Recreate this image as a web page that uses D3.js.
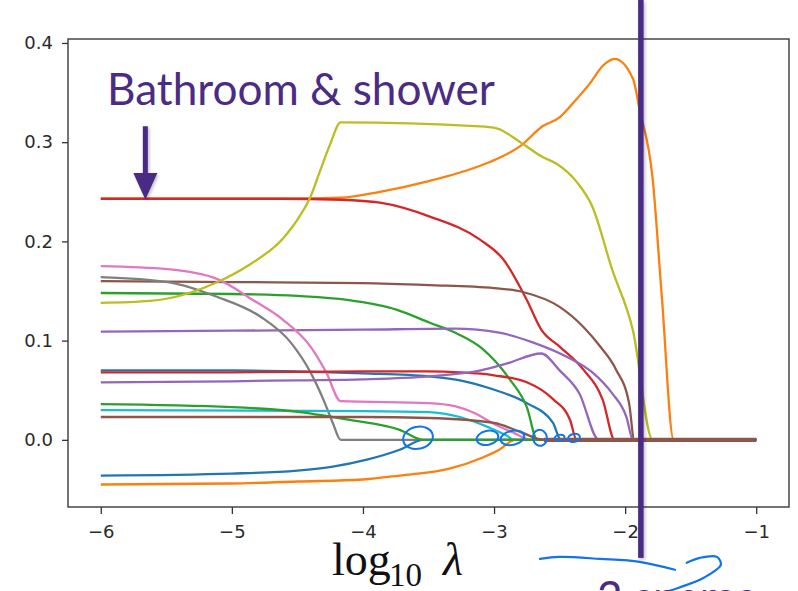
<!DOCTYPE html>
<html>
<head>
<meta charset="utf-8">
<script src="https://cdn.jsdelivr.net/npm/d3@7"></script>
<style>
  body { margin: 0; background: #fff; }
  svg { display: block; }
  .tick text { font-family: "DejaVu Sans", sans-serif; font-size: 18px; fill: #2a2a2a; }
</style>
</head>
<body>
<div id="container"></div>
<script>
/* CONSTANTS AND GLOBALS */
const width = 798,
  height = 591,
  margin = { top: 39, bottom: 84, left: 68, right: 9 };

const purple = "#4a2c84";
const ink = "#1273ea";

// tick values
const xTicks = [-6, -5, -4, -3, -2, -1];
const yTicks = [0.0, 0.1, 0.2, 0.3, 0.4];

// lasso paths, [log10 lambda, coefficient], in plotting order
const blue1 = [[-6, 0.070], [-5, 0.070], [-4.5, 0.069], [-4, 0.067], [-3.5, 0.064], [-3.26, 0.060], [-3.01, 0.051], [-2.75, 0.037], [-2.55, 0.017], [-2.49, 0], [-1, 0]];
const orange1 = [[-6, 0.243], [-4.6, 0.243], [-4.17, 0.244], [-3.87, 0.250], [-3.49, 0.261], [-3.11, 0.276], [-2.98, 0.283], [-2.80, 0.296], [-2.63, 0.316], [-2.50, 0.325], [-2.40, 0.339], [-2.27, 0.359], [-2.17, 0.377], [-2.08, 0.384], [-1.94, 0.364], [-1.89, 0.333], [-1.79, 0.263], [-1.72, 0.144], [-1.63, 0], [-1, 0]];
const green1 = [[-6, 0.148], [-5, 0.147], [-4.5, 0.145], [-4.12, 0.141], [-3.74, 0.131], [-3.49, 0.118], [-3.28, 0.107], [-3.09, 0.092], [-2.88, 0.061], [-2.75, 0.033], [-2.67, 0], [-1, 0]];
const red1 = [[-6, 0.243], [-4.63, 0.243], [-4.17, 0.242], [-3.87, 0.239], [-3.49, 0.225], [-3.11, 0.202], [-2.93, 0.182], [-2.75, 0.141], [-2.64, 0.111], [-2.50, 0.094], [-2.32, 0.071], [-2.17, 0.040], [-2.08, 0], [-1, 0]];
const purple1 = [[-6, 0.109], [-5, 0.110], [-4, 0.111], [-3.3, 0.112], [-2.96, 0.108], [-2.70, 0.098], [-2.45, 0.084], [-2.25, 0.068], [-2.10, 0.047], [-1.99, 0.023], [-1.94, 0], [-1, 0]];
const brown1 = [[-6, 0.160], [-5, 0.159], [-4, 0.158], [-3.5, 0.156], [-3.0, 0.153], [-2.78, 0.149], [-2.50, 0.134], [-2.32, 0.114], [-2.19, 0.094], [-2.07, 0.071], [-1.97, 0.037], [-1.93, 0], [-1, 0]];
const pink1 = [[-6, 0.175], [-5.49, 0.172], [-5.11, 0.162], [-4.84, 0.141], [-4.61, 0.121], [-4.40, 0.094], [-4.28, 0.068], [-4.17, 0.039], [-3.5, 0.037], [-3.3, 0.034], [-3.15, 0.027], [-3.0, 0.016], [-2.85, 0.007], [-2.72, 0], [-1, 0]];
const gray1 = [[-6, 0.164], [-5.49, 0.159], [-5.11, 0.144], [-4.78, 0.124], [-4.55, 0.098], [-4.40, 0.068], [-4.30, 0.040], [-4.23, 0.017], [-4.17, 0], [-1, 0]];
const olive1 = [[-6, 0.138], [-5.62, 0.140], [-5.11, 0.159], [-4.86, 0.177], [-4.61, 0.203], [-4.48, 0.226], [-4.40, 0.245], [-4.33, 0.270], [-4.25, 0.298], [-4.17, 0.320], [-3.11, 0.316], [-2.98, 0.314], [-2.80, 0.300], [-2.63, 0.285], [-2.52, 0.278], [-2.37, 0.260], [-2.25, 0.235], [-2.10, 0.172], [-1.94, 0.110], [-1.79, 0], [-1, 0]];
const cyan1 = [[-6, 0.030], [-4, 0.029], [-3.5, 0.028], [-3.26, 0.023], [-3.05, 0.013], [-2.9, 0.004], [-2.85, 0], [-1, 0]];
const blue2 = [[-6, -0.036], [-5, -0.034], [-4.5, -0.031], [-4.23, -0.027], [-3.97, -0.020], [-3.72, -0.010], [-3.54, 0], [-1, 0]];
const orange2 = [[-6, -0.045], [-5, -0.044], [-4.5, -0.042], [-4, -0.040], [-3.72, -0.036], [-3.34, -0.029], [-3.09, -0.018], [-2.96, -0.010], [-2.84, 0], [-1, 0]];
const green2 = [[-6, 0.036], [-5, 0.033], [-4.48, 0.028], [-4.1, 0.020], [-3.72, 0.010], [-3.54, 0], [-1, 0]];
const red2 = [[-6, 0.068], [-5, 0.068], [-4, 0.069], [-3.5, 0.069], [-3.26, 0.068], [-3.0, 0.065], [-2.75, 0.058], [-2.55, 0.041], [-2.42, 0.020], [-2.37, 0], [-1, 0]];
const purple2 = [[-6, 0.058], [-5, 0.059], [-4.5, 0.060], [-4, 0.061], [-3.5, 0.064], [-3.1, 0.070], [-2.9, 0.077], [-2.64, 0.087], [-2.5, 0.070], [-2.35, 0.047], [-2.2, 0], [-1, 0]];
const brown2 = [[-6, 0.023], [-4, 0.023], [-3.5, 0.022], [-3.0, 0.017], [-2.8, 0.008], [-2.62, 0], [-1, 0]];

const paths = [blue1, orange1, green1, red1, purple1, brown1, pink1, gray1, olive1, cyan1,
  blue2, orange2, green2, red2, purple2, brown2];
const colors = ["#1f77b4", "#ff7f0e", "#2ca02c", "#d62728", "#9467bd", "#8c564b", "#e377c2", "#7f7f7f", "#bcbd22", "#17becf"];

// annotations (data coordinates)
const cutLambda = -1.88;
const arrowAt = { x: -5.66, top: 0.316, headTop: 0.269, tip: 0.242 };
const inkLoops = [[-3.58, 15, 11], [-3.05, 11, 7], [-2.86, 12, 7], [-2.65, 7, 8], [-2.50, 5, 3], [-2.39, 6, 4]];
const inkStroke1 = [[-2.65, -0.120], [-2.50, -0.118], [-2.19, -0.120], [-1.89, -0.123], [-1.62, -0.131]];
const inkStroke2 = [[-1.53, -0.124], [-1.43, -0.119], [-1.30, -0.118], [-1.27, -0.126], [-1.40, -0.139], [-1.59, -0.149], [-1.78, -0.157]];

/* SCALES */
const xScale = d3.scaleLinear()
  .domain([-6.25, -0.75])
  .range([margin.left, width - margin.right]);

const yScale = d3.scaleLinear()
  .domain([-0.0677, 0.404])
  .range([height - margin.bottom, margin.top]);

/* SVG */
const svg = d3.select("#container")
  .append("svg")
  .attr("width", width)
  .attr("height", height);

svg.append("defs").append("filter")
  .attr("id", "shadow")
  .attr("filterUnits", "userSpaceOnUse")
  .attr("x", 0).attr("y", 0).attr("width", width).attr("height", height)
  .append("feDropShadow")
  .attr("dx", 1.5).attr("dy", 1.5).attr("stdDeviation", 1.5)
  .attr("flood-color", "#000").attr("flood-opacity", 0.25);

// axes
const xAxis = d3.axisBottom(xScale).tickValues(xTicks).tickSize(7).tickPadding(8).tickFormat(d3.format("d"));
const yAxis = d3.axisLeft(yScale).tickValues(yTicks).tickSize(6).tickPadding(9).tickFormat(d3.format(".1f"));

svg.append("g")
  .attr("transform", `translate(0,${height - margin.bottom})`)
  .call(xAxis)
  .call(g => g.select(".domain").remove())
  .call(g => g.selectAll(".tick line").attr("stroke", "#333").attr("stroke-width", 1.3))
  .call(g => g.selectAll(".tick text").attr("dy", "0.9em"));

svg.append("g")
  .attr("transform", `translate(${margin.left},0)`)
  .call(yAxis)
  .call(g => g.select(".domain").remove())
  .call(g => g.selectAll(".tick line").attr("stroke", "#333").attr("stroke-width", 1.3));

// lines
const line = d3.line()
  .x(d => xScale(d[0]))
  .y(d => yScale(d[1]))
  .curve(d3.curveMonotoneX);

svg.append("g")
  .selectAll("path")
  .data(paths)
  .join("path")
  .attr("d", line)
  .attr("fill", "none")
  .attr("stroke", (d, i) => colors[i % colors.length])
  .attr("stroke-width", 2.3)
  .attr("stroke-linejoin", "round");

// the overlapping zero tail looks heavier in the original
svg.append("path")
  .attr("d", line(brown2.filter(d => d[1] === 0)))
  .attr("fill", "none")
  .attr("stroke", colors[5])
  .attr("stroke-width", 4.2);

// frame
svg.append("rect")
  .attr("x", margin.left)
  .attr("y", margin.top)
  .attr("width", width - margin.left - margin.right)
  .attr("height", height - margin.top - margin.bottom)
  .attr("fill", "none")
  .attr("stroke", "#3a3a3a")
  .attr("stroke-width", 1.4);

// x axis title
const xt = svg.append("text")
  .attr("x", 332)
  .attr("y", 575)
  .attr("font-family", "'Liberation Serif', serif")
  .attr("font-size", 46)
  .attr("fill", "#111");
xt.append("tspan").text("log");
xt.append("tspan").attr("x", 389).attr("font-size", 33).attr("dy", 11).text("10");
xt.append("tspan").attr("x", 443).attr("dy", -11).attr("font-style", "italic").text("λ");

// hand ink on the zero line
svg.append("g")
  .selectAll("ellipse")
  .data(inkLoops)
  .join("ellipse")
  .attr("cx", d => xScale(d[0]))
  .attr("cy", yScale(0) - 2)
  .attr("rx", d => d[1])
  .attr("ry", d => d[2])
  .attr("transform", d => `rotate(-12,${xScale(d[0])},${yScale(0) - 2})`)
  .attr("fill", "none")
  .attr("stroke", ink)
  .attr("stroke-width", 2);

const inkLine = d3.line()
  .x(d => xScale(d[0]))
  .y(d => yScale(d[1]))
  .curve(d3.curveCatmullRom);

[inkStroke1, inkStroke2].forEach(s => {
  svg.append("path")
    .attr("d", inkLine(s))
    .attr("fill", "none")
    .attr("stroke", ink)
    .attr("stroke-width", 2.2)
    .attr("stroke-linecap", "round");
});

// selected lambda
const lx = xScale(cutLambda);
svg.append("rect")
  .attr("x", lx - 2.75)
  .attr("y", 0)
  .attr("width", 5.5)
  .attr("height", yScale(-0.119))
  .attr("fill", purple)
  .attr("filter", "url(#shadow)");

// arrow
const ax = xScale(arrowAt.x);
svg.append("path")
  .attr("d", `M${ax - 2.5},${yScale(arrowAt.top)} L${ax + 2.5},${yScale(arrowAt.top)} L${ax + 2.5},${yScale(arrowAt.headTop)}
    L${ax + 12},${yScale(arrowAt.headTop)} L${ax},${yScale(arrowAt.tip)} L${ax - 12},${yScale(arrowAt.headTop)}
    L${ax - 2.5},${yScale(arrowAt.headTop)} Z`)
  .attr("fill", purple)
  .attr("filter", "url(#shadow)");

// annotation texts
const title = svg.append("text")
  .attr("x", 107)
  .attr("y", 105)
  .attr("font-family", "Lato, 'Open Sans', sans-serif")
  .attr("font-size", 40)
  .attr("fill", purple)
  .text("Bathroom & shower");
const tw = title.node().getComputedTextLength();
title.attr("font-size", 40 * 388 / tw);

svg.append("text")
  .attr("x", 597)
  .attr("y", 613)
  .attr("font-family", "Lato, 'Open Sans', sans-serif")
  .attr("font-size", 40 * 388 / tw)
  .attr("fill", purple)
  .text("2 sparse");
</script>
</body>
</html>
